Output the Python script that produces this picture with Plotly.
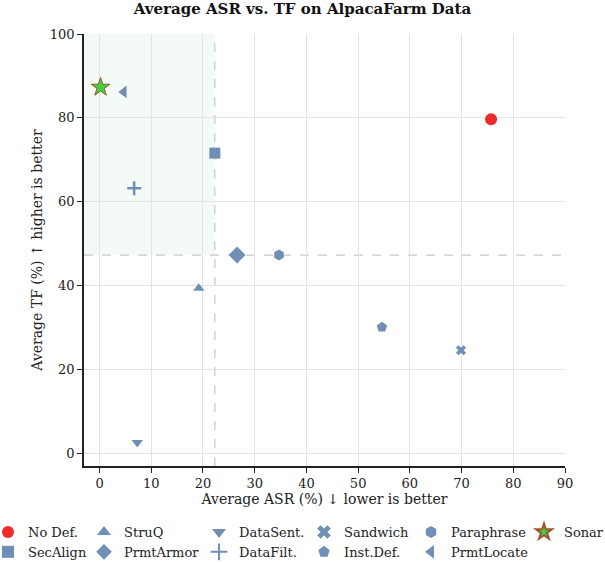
import plotly.graph_objects as go

names = ["No Def.", "SecAlign", "StruQ", "PrmtArmor", "DataSent.", "DataFilt.",
         "Sandwich", "Inst.Def.", "Paraphrase", "PrmtLocate", "Sonar"]
asr = [75.7, 22.3, 19.2, 26.6, 7.3, 6.7, 69.9, 54.6, 34.7, 4.7, 0.2]
tf = [79.7, 71.6, 39.4, 47.3, 2.6, 63.2, 24.6, 30.1, 47.3, 86.2, 87.3]
symbols = ["circle", "square", "triangle-up", "diamond", "triangle-down", "cross-thin",
           "x", "pentagon", "hexagon", "triangle-left", "star"]
sizes = [12, 11, 10, 13, 10, 10, 9, 11, 11, 11, 14]
legend_ids = ["legend", "legend", "legend2", "legend2", "legend3", "legend3",
              "legend4", "legend4", "legend5", "legend5", "legend6"]

BLUE = "#6f8fb7"
FONT = "DejaVu Serif"

fig = go.Figure()

# shaded "good" region and threshold lines
fig.add_shape(type="rect", xref="x", yref="y", x0=-3, x1=asr[1], y0=tf[3], y1=100,
              fillcolor="rgba(60,170,90,0.06)", line_width=0, layer="below")
fig.add_shape(type="line", xref="x", yref="y", x0=asr[1], x1=asr[1], y0=-3, y1=100,
              line=dict(color="#c8c8c8", width=1.2, dash="dash"), layer="below")
fig.add_shape(type="line", xref="x", yref="y", x0=-3, x1=90, y0=tf[3], y1=tf[3],
              line=dict(color="#c8c8c8", width=1.2, dash="dash"), layer="below")

for i, n in enumerate(names):
    if n == "No Def.":
        color, line = "#ee2a2a", dict(width=0)
    elif n == "Sonar":
        color, line = "#3fd13f", dict(width=1, color="#a0522d")
    else:
        color, line = BLUE, dict(width=0)
    if symbols[i] in ("cross-thin",):
        mk = dict(symbol=symbols[i], size=sizes[i], color=color,
                  line=dict(width=2.5, color=color))
    else:
        mk = dict(symbol=symbols[i], size=sizes[i], color=color, line=line)
    fig.add_trace(go.Scatter(x=[asr[i]], y=[tf[i]], mode="markers", name=n,
                             marker=mk, legend=legend_ids[i]))

leg_x_px = [-12, 84, 199, 304, 411, 524]
plot_l, plot_r = 84, 565
pw = plot_r - plot_l
legends = {}
for k, px in enumerate(leg_x_px):
    key = "legend" if k == 0 else f"legend{k+1}"
    legends[key] = dict(x=(px - plot_l) / pw, xanchor="left", y=-0.118, yanchor="top",
                        orientation="v", font=dict(family=FONT, size=13, color="#222"),
                        bgcolor="rgba(0,0,0,0)", tracegroupgap=0, itemsizing="constant")

fig.update_layout(
    width=605, height=563,
    margin=dict(l=84, r=40, t=34, b=97, autoexpand=False),
    plot_bgcolor="white", paper_bgcolor="white",
    font=dict(family=FONT, size=13, color="#222"),
    title=dict(text="<b>Average ASR vs. TF on AlpacaFarm Data</b>", x=0.5, xref="container",
               xanchor="center", y=0.993, yref="container", yanchor="top",
               font=dict(family=FONT, size=15, color="#111")),
    showlegend=True,
    **legends,
)
fig.update_xaxes(range=[-3, 90], tickvals=list(range(0, 91, 10)), showgrid=True,
                 gridcolor="#e3e3e3", gridwidth=1, zeroline=False, showline=True,
                 linecolor="#222", linewidth=1.5, ticks="outside", ticklen=5,
                 tickcolor="#222", tickfont=dict(size=13),
                 title=dict(text="Average ASR (%) ↓ lower is better", standoff=4,
                            font=dict(size=14)))
fig.update_yaxes(range=[-3, 100], tickvals=list(range(0, 101, 20)), showgrid=True,
                 gridcolor="#e3e3e3", gridwidth=1, zeroline=False, showline=True,
                 linecolor="#222", linewidth=1.5, ticks="outside", ticklen=5,
                 tickcolor="#222", tickfont=dict(size=13),
                 title=dict(text="Average TF (%) ↑ higher is better", standoff=4,
                            font=dict(size=14)))

fig.write_html("out.html", config={"displayModeBar": False},
               post_script="document.body.style.margin='0';")
